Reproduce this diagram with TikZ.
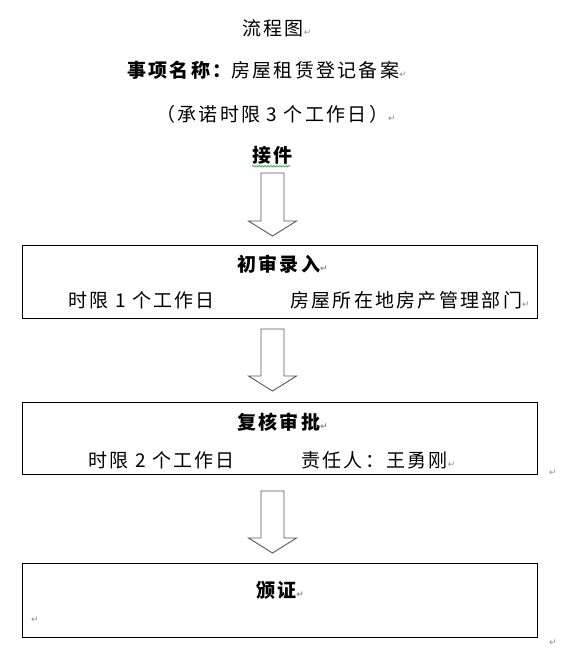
\documentclass[tikz,border=0pt]{standalone}
\usepackage{fontspec}
\usetikzlibrary{calc,decorations.pathmorphing}
\newfontfamily\cjk[LetterSpace=12]{Noto Sans CJK SC}
\newfontfamily\symf{DejaVu Sans}
\newcommand\parmk{{\symf\fontsize{9}{10}\selectfont\textcolor{black!45}{↵}}}
\newcommand\blockarrow[2]{%
  \draw[barrow] let \p1=(#1), \p2=(#2) in
    (\x1-11.5pt,\y1) -- (\x1+11.5pt,\y1) -- (\x1+11.5pt,\y2+15pt) -- (\x1+24pt,\y2+15pt)
    -- (\x2,\y2) -- (\x1-24pt,\y2+15pt) -- (\x1-11.5pt,\y2+15pt) -- cycle;}
\begin{document}
\begin{tikzpicture}[x=1pt,y=-1pt,
  txt/.style={inner sep=0pt, anchor=west, font=\cjk\fontsize{19}{22}\selectfont},
  btxt/.style={txt, font=\cjk\bfseries\fontsize{19}{22}\selectfont},
  boxst/.style={draw=black, line width=0.9pt, minimum width=515pt, inner sep=0pt},
  barrow/.style={draw=black!65, line width=0.9pt, fill=white, line join=miter},
  mk/.style={inner sep=0pt}]
\useasboundingbox (0,0) rectangle (573,670);

% header
\node[txt] (t0) at (242,28) {流程图\parmk};
\node[txt] (t1) at (127,70) {{\bfseries 事项名称：}房屋租赁登记备案\parmk};
\node[txt] (t2) at (156,114) {（承诺时限 3 个工作日）\parmk};
\node[btxt] (jj) at (252,155) {接件};
\draw[green!60!black, line width=0.5pt, decorate, decoration={snake,amplitude=0.8pt,segment length=3pt}]
  ($(jj.south west)+(0,2)$) -- ($(jj.south east)+(-2,2)$);

% boxes
\node[boxst, minimum height=73pt] (b1) at (279.5,281.5) {};
\node[boxst, minimum height=72pt] (b2) at (279.5,438) {};
\node[boxst, minimum height=74pt] (b3) at (279.5,600) {};

\node[btxt] (b1t) at (237,264) {初审录入\parmk};
\node[txt] (b1l) at (68,300) {时限 1 个工作日};
\node[txt] (b1r) at (290,300) {房屋所在地房产管理部门\parmk};

\node[btxt] (b2t) at (237,422) {复核审批\parmk};
\node[txt] (b2l) at (88,460) {时限 2 个工作日};
\node[txt] (b2r) at (301,460) {责任人：王勇刚\parmk};

\node[btxt] (b3t) at (256,590) {颁证\parmk};
\node[mk] (b3p) at (35,620) {\parmk};

\node[mk] (m1) at (553,473) {\parmk};
\node[mk] (m2) at (553,643) {\parmk};

% block arrows
\coordinate (a1s) at (272.5,173);
\coordinate (a1e) at (272.5,236);
\coordinate (a2s) at (272.5,329);
\coordinate (a2e) at (272.5,391);
\coordinate (a3s) at (272.5,491);
\coordinate (a3e) at (272.5,553);
\blockarrow{a1s}{a1e}
\blockarrow{a2s}{a2e}
\blockarrow{a3s}{a3e}
\end{tikzpicture}
\end{document}
